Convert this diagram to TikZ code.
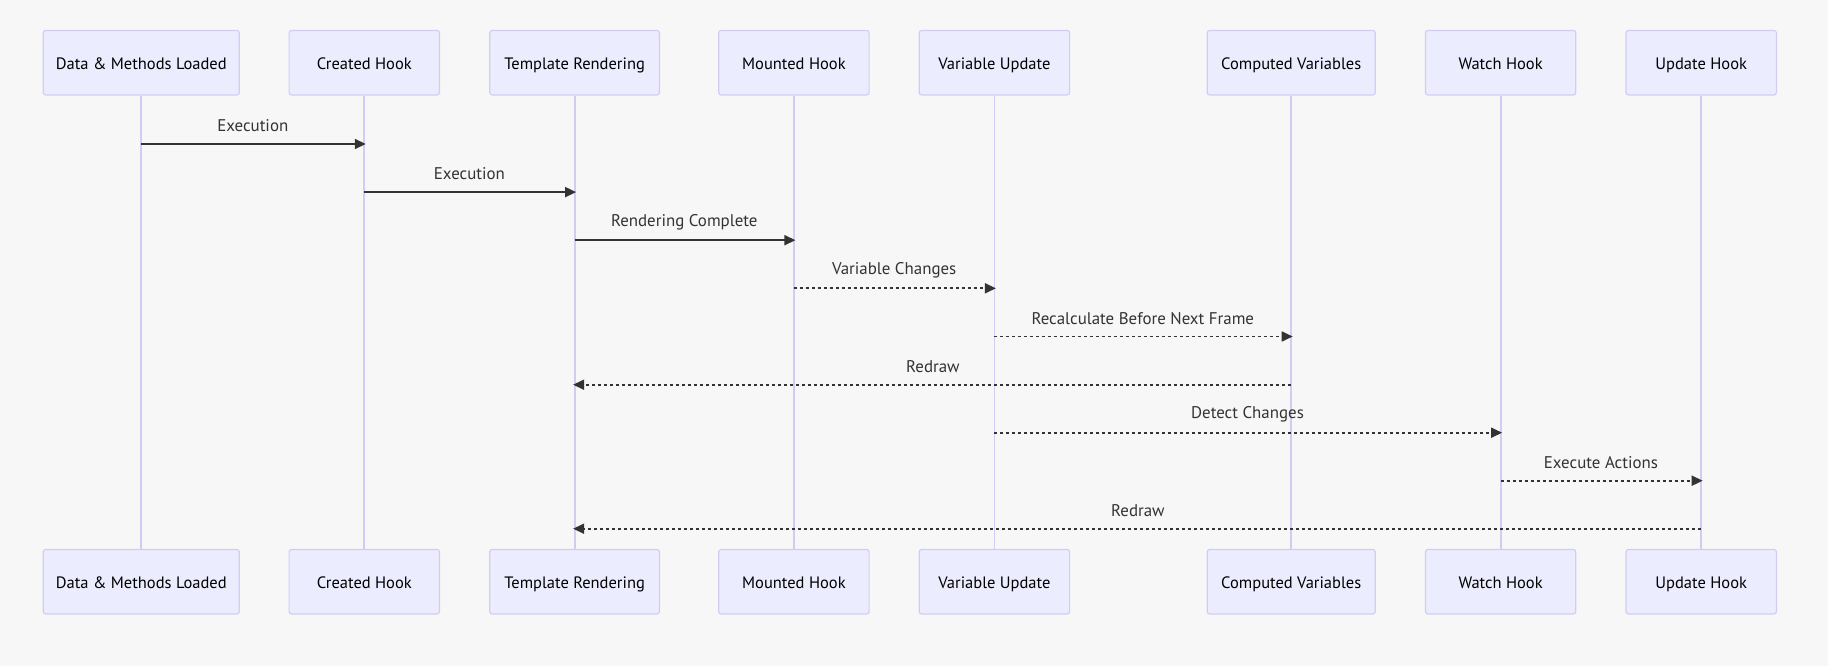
\documentclass[tikz,border=0pt]{standalone}
\usepackage{fontspec}
\setmainfont{PT Sans}
\usetikzlibrary{arrows.meta}
\definecolor{bg}{HTML}{F7F7F7}
\definecolor{actfill}{HTML}{ECECFF}
\definecolor{actdraw}{HTML}{D4CBF5}
\definecolor{life}{HTML}{D4CBF5}
\definecolor{msgc}{HTML}{333333}
\begin{document}
\begin{tikzpicture}[x=1pt,y=-1pt,
  actor/.style={draw=actdraw, fill=actfill, line width=1.2pt, rounded corners=2.5pt,
    minimum height=64.5pt, inner sep=0pt, text height=16.4pt, text depth=3.6pt,
    font=\fontsize{16.5}{19}\selectfont, text=black},
  lifeline/.style={draw=life, line width=1.8pt},
  msgline/.style={draw=msgc, line width=1.7pt, shorten >=-1.5pt,
    -{Triangle[length=11pt,width=10pt]}},
  replyline/.style={msgline, dash pattern=on 3pt off 3pt},
  lbl/.style={font=\fontsize{16.9}{19}\selectfont, text=msgc, yshift=18pt}]
\fill[bg] (0,0) rectangle (1828,666);
\useasboundingbox (0,0) rectangle (1828,666);
% top actors
\node[actor, minimum width=196pt]   (a1) at (141.3,62.7) {Data \& Methods Loaded};
\node[actor, minimum width=150.4pt] (a2) at (364.3,62.7) {Created Hook};
\node[actor, minimum width=169.6pt] (a3) at (574.6,62.7) {Template Rendering};
\node[actor, minimum width=150.4pt] (a4) at (793.9,62.7) {Mounted Hook};
\node[actor, minimum width=150.4pt] (a5) at (994.4,62.7) {Variable Update};
\node[actor, minimum width=168pt]   (a6) at (1291.2,62.7) {Computed Variables};
\node[actor, minimum width=150.4pt] (a7) at (1500.6,62.7) {Watch Hook};
\node[actor, minimum width=150.4pt] (a8) at (1701.2,62.7) {Update Hook};
% bottom actors
\node[actor, minimum width=196pt]   (b1) at (141.3,581.7) {Data \& Methods Loaded};
\node[actor, minimum width=150.4pt] (b2) at (364.3,581.7) {Created Hook};
\node[actor, minimum width=169.6pt] (b3) at (574.6,581.7) {Template Rendering};
\node[actor, minimum width=150.4pt] (b4) at (793.9,581.7) {Mounted Hook};
\node[actor, minimum width=150.4pt] (b5) at (994.4,581.7) {Variable Update};
\node[actor, minimum width=168pt]   (b6) at (1291.2,581.7) {Computed Variables};
\node[actor, minimum width=150.4pt] (b7) at (1500.6,581.7) {Watch Hook};
\node[actor, minimum width=150.4pt] (b8) at (1701.2,581.7) {Update Hook};
% lifelines
\foreach \i in {1,...,8}{\draw[lifeline] (a\i.south) -- (b\i.north);}
% message rows
\coordinate (r1) at (0,144);
\coordinate (r2) at (0,192.1);
\coordinate (r3) at (0,240.2);
\coordinate (r4) at (0,288.3);
\coordinate (r5) at (0,336.5);
\coordinate (r6) at (0,384.7);
\coordinate (r7) at (0,432.7);
\coordinate (r8) at (0,480.7);
\coordinate (r9) at (0,528.7);
% messages
\draw[msgline] (a1 |- r1) -- (a2 |- r1) node[midway, lbl] {Execution};
\draw[msgline] (a2 |- r2) -- (a3 |- r2) node[midway, lbl] {Execution};
\draw[msgline] (a3 |- r3) -- (a4 |- r3) node[midway, lbl] {Rendering Complete};
\draw[replyline] (a4 |- r4) -- (a5 |- r4) node[midway, lbl] {Variable Changes};
\draw[replyline] (a5 |- r5) -- (a6 |- r5) node[midway, lbl] {Recalculate Before Next Frame};
\draw[replyline] (a6 |- r6) -- (a3 |- r6) node[midway, lbl] {Redraw};
\draw[replyline] (a5 |- r7) -- (a7 |- r7) node[midway, lbl] {Detect Changes};
\draw[replyline] (a7 |- r8) -- (a8 |- r8) node[midway, lbl] {Execute Actions};
\draw[replyline] (a8 |- r9) -- (a3 |- r9) node[midway, lbl] {Redraw};
\end{tikzpicture}
\end{document}
